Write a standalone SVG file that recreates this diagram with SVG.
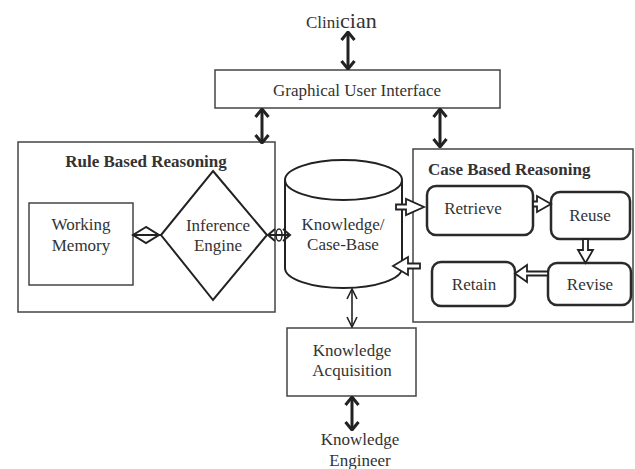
<svg xmlns="http://www.w3.org/2000/svg" width="635" height="469" viewBox="0 0 635 469">
<style>
text{font-family:"Liberation Serif","Times New Roman",serif;fill:#333;font-size:17px;text-anchor:middle}
.title{font-weight:bold;font-size:17px}
.box{fill:#fff;stroke:#444;stroke-width:1.5}
.rbox{fill:#fff;stroke:#2a2a2a;stroke-width:2.5}
.shape{fill:#fff;stroke:#222;stroke-width:2}
.thick{fill:none;stroke:#222;stroke-width:3;marker-start:url(#chev);marker-end:url(#chev)}
.thin{fill:none;stroke:#222;stroke-width:1.6;marker-start:url(#vthin);marker-end:url(#vthin)}
.dhead{fill:none;stroke:#222;stroke-width:2}
.blk{fill:#fff;stroke:#222;stroke-width:1.8}
</style>
<defs>
<marker id="chev" viewBox="0 0 10 16" refX="9" refY="8" markerWidth="10" markerHeight="16" markerUnits="userSpaceOnUse" orient="auto-start-reverse">
<path d="M1,1.5 L9,8 L1,14.5" fill="none" stroke="#222" stroke-width="3"/>
</marker>
<marker id="vthin" viewBox="0 0 12 12" refX="11" refY="6" markerWidth="12" markerHeight="12" markerUnits="userSpaceOnUse" orient="auto-start-reverse">
<path d="M1,1 L11,6 L1,11" fill="none" stroke="#222" stroke-width="1.6"/>
</marker>
</defs>

<g id="clinician"><text x="306" y="28" style="text-anchor:start"><tspan font-size="17">Clini</tspan><tspan font-size="22">cian</tspan></text></g>

<g id="gui"><rect class="box" x="215" y="70" width="285" height="38"/><text x="357" y="96">Graphical User Interface</text></g>

<g id="rbr"><rect class="box" x="18" y="142" width="257" height="170"/><text class="title" x="146" y="167">Rule Based Reasoning</text></g>

<g id="working-memory"><rect class="box" x="29" y="203" width="104" height="82"/><text x="81" y="230">Working</text><text x="81" y="251">Memory</text></g>

<g id="inference-engine"><path class="shape" d="M213,171 L267,235 L213,300 L161,235 Z"/><text x="218" y="231">Inference</text><text x="218" y="251">Engine</text></g>

<g id="knowledge-base"><path class="shape" d="M285,180 L285,268 A58.5,20 0 0 0 402,268 L402,180"/><ellipse class="shape" cx="343.5" cy="180" rx="58.5" ry="20"/><text x="343" y="230">Knowledge/</text><text x="343" y="250">Case-Base</text></g>

<g id="cbr"><rect class="box" x="413" y="149" width="220" height="173"/><text class="title" x="428" y="175" style="text-anchor:start">Case Based Reasoning</text></g>

<g id="retrieve"><rect class="rbox" x="427" y="186" width="106" height="49" rx="9"/><text x="473" y="214">Retrieve</text></g>
<g id="reuse"><rect class="rbox" x="551" y="192" width="79" height="47" rx="9"/><text x="590" y="221">Reuse</text></g>
<g id="revise"><rect class="rbox" x="548" y="263" width="83" height="42" rx="9"/><text x="590" y="290">Revise</text></g>
<g id="retain"><rect class="rbox" x="432" y="262" width="83" height="44" rx="9"/><text x="474" y="290">Retain</text></g>

<g id="knowledge-acquisition"><rect class="box" x="287" y="328" width="129" height="68"/><text x="352" y="356">Knowledge</text><text x="352" y="376">Acquisition</text></g>

<g id="knowledge-engineer"><text x="360" y="445">Knowledge</text><text x="360" y="466">Engineer</text></g>

<g id="connectors">
<line class="thick" x1="348" y1="32" x2="348" y2="69"/>
<line class="thick" x1="262" y1="109" x2="262" y2="143"/>
<line class="thick" x1="440" y1="109" x2="440" y2="147"/>
<line class="thick" x1="352" y1="397" x2="352" y2="430"/>
<line class="thin" x1="352" y1="289" x2="352" y2="327"/>
<path class="dhead" d="M146,227 L133,235 L146,243 L159,235 Z M133,235 L161,235"/>
<line class="dhead" x1="268" y1="235" x2="290" y2="235"/>
<path class="dhead" d="M275,229 L268,235 L275,241 M283,229 L290,235 L283,241"/>
<ellipse cx="279" cy="235" rx="3" ry="6" fill="none" stroke="#222" stroke-width="1.5"/>
<path class="blk" d="M396,204.5 H406 V199 L424,207 L406,215 V209.5 H396 Z"/>
<path class="blk" d="M533,201.5 H537 V196 L551,204 L537,212 V206.5 H533 Z"/>
<path class="blk" d="M583,239 V250 H578 L585.5,263 L593,250 H588 V239 Z"/>
<path class="blk" d="M548,271.5 H527 V265 L515,273.5 L527,282 V275.5 H548 Z"/>
<path class="blk" d="M420,263.5 H408 V257 L393,266 L408,275 V268.5 H420 Z"/>
</g>
</svg>
